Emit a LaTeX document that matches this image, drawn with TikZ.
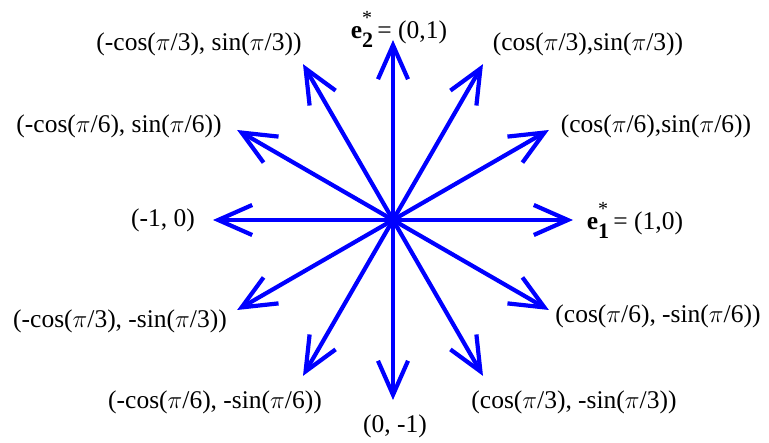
\documentclass[tikz,border=0pt]{standalone}
\usepackage{fontspec}
\setmainfont{Liberation Serif}
\usetikzlibrary{arrows.meta,calc}
\tikzset{
  vec/.style={draw={rgb,255:red,0;green,0;blue,255}, line width=4.2pt,
    -{Straight Barb[length=34pt,width=30pt,line width=4.2pt]}},
  lbl/.style={inner sep=0pt, font=\fontsize{25.5}{30}\selectfont}
}
\newcommand{\evec}[1]{\textbf{e}\rlap{\raisebox{0.58em}{\fontsize{20}{22}\selectfont *}}\raisebox{-0.32em}{\fontsize{22}{24}\selectfont\textbf{#1}}}
\begin{document}
\begin{tikzpicture}[x=1pt,y=-1pt]
\useasboundingbox (0,0) rectangle (769,443);
\coordinate (O) at (393,220);
\foreach \a in {0,30,...,330} {
  \coordinate (p\a) at ($(O)+({180*cos(\a)},{-180*sin(\a)})$);
}
\foreach \a in {0,30,...,330} {
  \draw[vec] (O) -- (p\a);
}
\fill[blue] (O) circle (3.5pt);
\node[lbl] (l90) at (399,29) {\evec{2}\,= (0,1)};
\node[lbl] (l60) at (588,44) {(cos($\pi$/3),sin($\pi$/3))};
\node[lbl] (l30) at (656,126) {(cos($\pi$/6),sin($\pi$/6))};
\node[lbl] (l0) at (635,220) {\evec{1}\,= (1,0)};
\node[lbl] (l120) at (199,44) {(-cos($\pi$/3), sin($\pi$/3))};
\node[lbl] (l150) at (119,126) {(-cos($\pi$/6), sin($\pi$/6))};
\node[lbl] (l180) at (163,220) {(-1, 0)};
\node[lbl] (l210) at (120,321) {(-cos($\pi$/3), -sin($\pi$/3))};
\node[lbl] (l240) at (215,402) {(-cos($\pi$/6), -sin($\pi$/6))};
\node[lbl] (l270) at (395,426) {(0, -1)};
\node[lbl] (l300) at (574,402) {(cos($\pi$/3), -sin($\pi$/3))};
\node[lbl] (l330) at (658,316) {(cos($\pi$/6), -sin($\pi$/6))};
\end{tikzpicture}
\end{document}
